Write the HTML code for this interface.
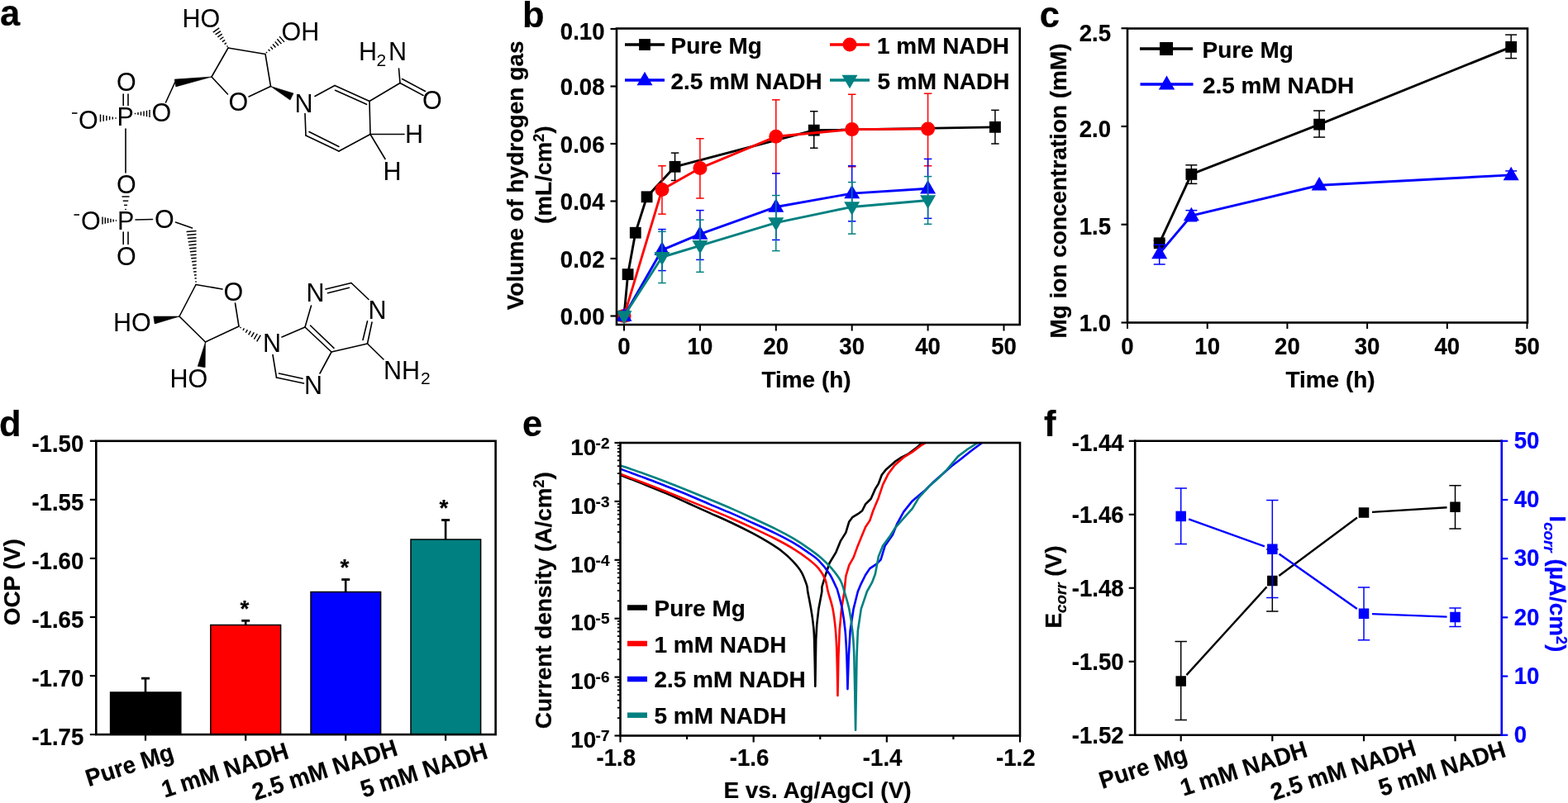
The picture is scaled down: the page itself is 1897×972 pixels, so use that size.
<!DOCTYPE html>
<html lang="en"><head><meta charset="utf-8"><title>NADH magnesium corrosion figure</title>
<style>
html,body{margin:0;padding:0;background:#fff;}
body{width:1897px;height:972px;overflow:hidden;}
svg{display:block;}
svg text{font-family:"Liberation Sans", Arial, Helvetica, sans-serif;font-weight:bold;stroke-width:0.2px;stroke-linejoin:round;}
#molecule text{font-weight:normal;stroke:none;}
</style></head><body>
<svg width="1897" height="972" viewBox="0 0 1897 972">
<rect width="1897" height="972" fill="#fff"/>
<text transform="translate(0 30.5)" font-size="43.5" stroke="#000">a</text>
<text transform="translate(632 32.5)" font-size="43.5" stroke="#000">b</text>
<text transform="translate(1257.8 32.5)" font-size="43.5" stroke="#000">c</text>
<text transform="translate(-1 528)" font-size="43.5" stroke="#000">d</text>
<text transform="translate(632 528)" font-size="43.5" stroke="#000">e</text>
<text transform="translate(1263 528)" font-size="43.5" stroke="#000">f</text>
<g id="molecule">
<line x1="276" y1="58" x2="321" y2="65.5" stroke="#000000" stroke-width="1.6" stroke-linecap="round"/>
<line x1="321" y1="65.5" x2="327.5" y2="104.5" stroke="#000000" stroke-width="1.6" stroke-linecap="round"/>
<line x1="256" y1="93" x2="276" y2="58" stroke="#000000" stroke-width="1.6" stroke-linecap="round"/>
<line x1="327.5" y1="104.5" x2="301" y2="117" stroke="#000000" stroke-width="1.6" stroke-linecap="round"/>
<line x1="256" y1="93" x2="275.5" y2="114" stroke="#000000" stroke-width="1.6" stroke-linecap="round"/>
<polygon points="256,93 211.24,96.06 212.76,104.94" fill="#000" stroke="#000" stroke-width="0.6" stroke-linejoin="round"/>
<line x1="212" y1="99" x2="200.5" y2="124" stroke="#000000" stroke-width="1.6" stroke-linecap="round"/>
<line x1="274.38" y1="56.43" x2="275.62" y2="55.57" stroke="#000000" stroke-width="1.45" stroke-linecap="butt"/>
<line x1="271.62" y1="53.53" x2="273.88" y2="51.97" stroke="#000000" stroke-width="1.45" stroke-linecap="butt"/>
<line x1="268.86" y1="50.64" x2="272.14" y2="48.36" stroke="#000000" stroke-width="1.45" stroke-linecap="butt"/>
<line x1="266.09" y1="47.74" x2="270.41" y2="44.76" stroke="#000000" stroke-width="1.45" stroke-linecap="butt"/>
<line x1="263.33" y1="44.85" x2="268.67" y2="41.15" stroke="#000000" stroke-width="1.45" stroke-linecap="butt"/>
<line x1="260.56" y1="41.96" x2="266.94" y2="37.54" stroke="#000000" stroke-width="1.45" stroke-linecap="butt"/>
<line x1="257.8" y1="39.06" x2="265.2" y2="33.94" stroke="#000000" stroke-width="1.45" stroke-linecap="butt"/>
<line x1="322.01" y1="62.93" x2="322.99" y2="64.07" stroke="#000000" stroke-width="1.45" stroke-linecap="butt"/>
<line x1="324.68" y1="59.79" x2="326.48" y2="61.87" stroke="#000000" stroke-width="1.45" stroke-linecap="butt"/>
<line x1="327.36" y1="56.65" x2="329.97" y2="59.68" stroke="#000000" stroke-width="1.45" stroke-linecap="butt"/>
<line x1="330.03" y1="53.51" x2="333.47" y2="57.49" stroke="#000000" stroke-width="1.45" stroke-linecap="butt"/>
<line x1="332.71" y1="50.38" x2="336.96" y2="55.29" stroke="#000000" stroke-width="1.45" stroke-linecap="butt"/>
<line x1="335.38" y1="47.24" x2="340.45" y2="53.1" stroke="#000000" stroke-width="1.45" stroke-linecap="butt"/>
<line x1="338.06" y1="44.1" x2="343.94" y2="50.9" stroke="#000000" stroke-width="1.45" stroke-linecap="butt"/>
<polygon points="327.5,104.5 351.02,121.04 354.98,112.96" fill="#000" stroke="#000" stroke-width="0.6" stroke-linejoin="round"/>
<text transform="translate(220.5 33)" font-size="30.5" stroke="#000">HO</text>
<text transform="translate(340.5 49)" font-size="30.5" stroke="#000">OH</text>
<text transform="translate(276.5 133.5)" font-size="30.5" stroke="#000">O</text>
<text transform="translate(183.5 146.5)" font-size="30.5" stroke="#000">O</text>
<text transform="translate(141.5 152)" font-size="30.5" stroke="#000">P</text>
<text transform="translate(95 155.5)" font-size="30.5" stroke="#000">O</text>
<text transform="translate(141 110)" font-size="30.5" stroke="#000">O</text>
<line x1="87" y1="137" x2="93.5" y2="137" stroke="#000000" stroke-width="1.6" stroke-linecap="butt"/>
<line x1="163.5" y1="136.75" x2="163.5" y2="138.25" stroke="#000000" stroke-width="1.45" stroke-linecap="butt"/>
<line x1="167" y1="136" x2="167" y2="139" stroke="#000000" stroke-width="1.45" stroke-linecap="butt"/>
<line x1="170.5" y1="135.25" x2="170.5" y2="139.75" stroke="#000000" stroke-width="1.45" stroke-linecap="butt"/>
<line x1="174" y1="134.5" x2="174" y2="140.5" stroke="#000000" stroke-width="1.45" stroke-linecap="butt"/>
<line x1="177.5" y1="133.75" x2="177.5" y2="141.25" stroke="#000000" stroke-width="1.45" stroke-linecap="butt"/>
<line x1="181" y1="133" x2="181" y2="142" stroke="#000000" stroke-width="1.45" stroke-linecap="butt"/>
<line x1="140" y1="143.75" x2="140" y2="142.25" stroke="#000000" stroke-width="1.45" stroke-linecap="butt"/>
<line x1="136.3" y1="144.5" x2="136.3" y2="141.5" stroke="#000000" stroke-width="1.45" stroke-linecap="butt"/>
<line x1="132.6" y1="145.25" x2="132.6" y2="140.75" stroke="#000000" stroke-width="1.45" stroke-linecap="butt"/>
<line x1="128.9" y1="146" x2="128.9" y2="140" stroke="#000000" stroke-width="1.45" stroke-linecap="butt"/>
<line x1="125.2" y1="146.75" x2="125.2" y2="139.25" stroke="#000000" stroke-width="1.45" stroke-linecap="butt"/>
<line x1="121.5" y1="147.5" x2="121.5" y2="138.5" stroke="#000000" stroke-width="1.45" stroke-linecap="butt"/>
<line x1="149.2" y1="114" x2="149.2" y2="127.5" stroke="#000000" stroke-width="1.6" stroke-linecap="round"/>
<line x1="155" y1="114" x2="155" y2="127.5" stroke="#000000" stroke-width="1.6" stroke-linecap="round"/>
<line x1="152" y1="156" x2="152" y2="209" stroke="#000000" stroke-width="1.6" stroke-linecap="round"/>
<text transform="translate(141 234)" font-size="30.5" stroke="#000">O</text>
<line x1="151.25" y1="253.5" x2="152.75" y2="253.5" stroke="#000000" stroke-width="1.45" stroke-linecap="butt"/>
<line x1="150" y1="248.33" x2="154" y2="248.33" stroke="#000000" stroke-width="1.45" stroke-linecap="butt"/>
<line x1="148.75" y1="243.17" x2="155.25" y2="243.17" stroke="#000000" stroke-width="1.45" stroke-linecap="butt"/>
<line x1="147.5" y1="238" x2="156.5" y2="238" stroke="#000000" stroke-width="1.45" stroke-linecap="butt"/>
<text transform="translate(142 277.5)" font-size="30.5" stroke="#000">P</text>
<text transform="translate(98 278)" font-size="30.5" stroke="#000">O</text>
<line x1="89.5" y1="260" x2="96" y2="260" stroke="#000000" stroke-width="1.6" stroke-linecap="butt"/>
<line x1="140.5" y1="267.75" x2="140.5" y2="266.25" stroke="#000000" stroke-width="1.45" stroke-linecap="butt"/>
<line x1="137.2" y1="268.5" x2="137.2" y2="265.5" stroke="#000000" stroke-width="1.45" stroke-linecap="butt"/>
<line x1="133.9" y1="269.25" x2="133.9" y2="264.75" stroke="#000000" stroke-width="1.45" stroke-linecap="butt"/>
<line x1="130.6" y1="270" x2="130.6" y2="264" stroke="#000000" stroke-width="1.45" stroke-linecap="butt"/>
<line x1="127.3" y1="270.75" x2="127.3" y2="263.25" stroke="#000000" stroke-width="1.45" stroke-linecap="butt"/>
<line x1="124" y1="271.5" x2="124" y2="262.5" stroke="#000000" stroke-width="1.45" stroke-linecap="butt"/>
<line x1="164" y1="266" x2="184.5" y2="265.5" stroke="#000000" stroke-width="1.6" stroke-linecap="round"/>
<text transform="translate(187 276)" font-size="30.5" stroke="#000">O</text>
<line x1="212.5" y1="269" x2="232.5" y2="276" stroke="#000000" stroke-width="1.6" stroke-linecap="round"/>
<line x1="149.2" y1="281" x2="149.2" y2="295.5" stroke="#000000" stroke-width="1.6" stroke-linecap="round"/>
<line x1="155" y1="281" x2="155" y2="295.5" stroke="#000000" stroke-width="1.6" stroke-linecap="round"/>
<text transform="translate(141 320.5)" font-size="30.5" stroke="#000">O</text>
<line x1="236.25" y1="341.07" x2="237.75" y2="340.93" stroke="#000000" stroke-width="1.5" stroke-linecap="butt"/>
<line x1="235.54" y1="337.03" x2="237.73" y2="336.83" stroke="#000000" stroke-width="1.5" stroke-linecap="butt"/>
<line x1="234.82" y1="333" x2="237.71" y2="332.74" stroke="#000000" stroke-width="1.5" stroke-linecap="butt"/>
<line x1="234.11" y1="328.96" x2="237.69" y2="328.64" stroke="#000000" stroke-width="1.5" stroke-linecap="butt"/>
<line x1="233.39" y1="324.93" x2="237.67" y2="324.54" stroke="#000000" stroke-width="1.5" stroke-linecap="butt"/>
<line x1="232.68" y1="320.89" x2="237.66" y2="320.44" stroke="#000000" stroke-width="1.5" stroke-linecap="butt"/>
<line x1="231.96" y1="316.86" x2="237.64" y2="316.34" stroke="#000000" stroke-width="1.5" stroke-linecap="butt"/>
<line x1="231.25" y1="312.82" x2="237.62" y2="312.25" stroke="#000000" stroke-width="1.5" stroke-linecap="butt"/>
<line x1="230.53" y1="308.79" x2="237.6" y2="308.15" stroke="#000000" stroke-width="1.5" stroke-linecap="butt"/>
<line x1="229.82" y1="304.75" x2="237.58" y2="304.05" stroke="#000000" stroke-width="1.5" stroke-linecap="butt"/>
<line x1="229.1" y1="300.71" x2="237.57" y2="299.95" stroke="#000000" stroke-width="1.5" stroke-linecap="butt"/>
<line x1="228.39" y1="296.68" x2="237.55" y2="295.85" stroke="#000000" stroke-width="1.5" stroke-linecap="butt"/>
<line x1="227.67" y1="292.64" x2="237.53" y2="291.76" stroke="#000000" stroke-width="1.5" stroke-linecap="butt"/>
<line x1="226.95" y1="288.61" x2="237.51" y2="287.66" stroke="#000000" stroke-width="1.5" stroke-linecap="butt"/>
<line x1="226.24" y1="284.57" x2="237.49" y2="283.56" stroke="#000000" stroke-width="1.5" stroke-linecap="butt"/>
<line x1="225.52" y1="280.54" x2="237.48" y2="279.46" stroke="#000000" stroke-width="1.5" stroke-linecap="butt"/>
<line x1="237" y1="344.5" x2="217" y2="383" stroke="#000000" stroke-width="1.6" stroke-linecap="round"/>
<line x1="217" y1="383" x2="248.5" y2="414" stroke="#000000" stroke-width="1.6" stroke-linecap="round"/>
<line x1="248.5" y1="414" x2="289" y2="395" stroke="#000000" stroke-width="1.6" stroke-linecap="round"/>
<line x1="237" y1="344.5" x2="269" y2="350" stroke="#000000" stroke-width="1.6" stroke-linecap="round"/>
<line x1="284.5" y1="367" x2="289" y2="395" stroke="#000000" stroke-width="1.6" stroke-linecap="round"/>
<text transform="translate(270.5 363.5)" font-size="30.5" stroke="#000">O</text>
<polygon points="217,383 185.84,383.05 187.16,391.95" fill="#000" stroke="#000" stroke-width="0.6" stroke-linejoin="round"/>
<text transform="translate(137 401)" font-size="30.5" stroke="#000">HO</text>
<polygon points="248.5,414 239.26,443.29 248.14,444.71" fill="#000" stroke="#000" stroke-width="0.6" stroke-linejoin="round"/>
<text transform="translate(205.5 469)" font-size="30.5" stroke="#000">HO</text>
<line x1="291.38" y1="395.85" x2="290.62" y2="397.15" stroke="#000000" stroke-width="1.45" stroke-linecap="butt"/>
<line x1="295.37" y1="397.48" x2="293.97" y2="399.85" stroke="#000000" stroke-width="1.45" stroke-linecap="butt"/>
<line x1="299.35" y1="399.11" x2="297.32" y2="402.56" stroke="#000000" stroke-width="1.45" stroke-linecap="butt"/>
<line x1="303.34" y1="400.74" x2="300.66" y2="405.26" stroke="#000000" stroke-width="1.45" stroke-linecap="butt"/>
<line x1="307.32" y1="402.37" x2="304.01" y2="407.96" stroke="#000000" stroke-width="1.45" stroke-linecap="butt"/>
<line x1="311.3" y1="404" x2="307.36" y2="410.67" stroke="#000000" stroke-width="1.45" stroke-linecap="butt"/>
<line x1="315.29" y1="405.63" x2="310.71" y2="413.37" stroke="#000000" stroke-width="1.45" stroke-linecap="butt"/>
<text transform="translate(318 426)" font-size="30.5" stroke="#000">N</text>
<line x1="341" y1="408" x2="369" y2="396" stroke="#000000" stroke-width="1.6" stroke-linecap="round"/>
<line x1="369" y1="396" x2="376.5" y2="370" stroke="#000000" stroke-width="1.6" stroke-linecap="round"/>
<text transform="translate(370.5 365)" font-size="30.5" stroke="#000">N</text>
<line x1="394" y1="350" x2="425" y2="342.5" stroke="#000000" stroke-width="1.6" stroke-linecap="round"/>
<line x1="396.5" y1="354.8" x2="422.5" y2="348.3" stroke="#000000" stroke-width="1.6" stroke-linecap="round"/>
<line x1="425" y1="342.5" x2="446" y2="362.5" stroke="#000000" stroke-width="1.6" stroke-linecap="round"/>
<text transform="translate(445.5 385.5)" font-size="30.5" stroke="#000">N</text>
<line x1="450" y1="390" x2="444.5" y2="416" stroke="#000000" stroke-width="1.6" stroke-linecap="round"/>
<line x1="444.5" y1="388.8" x2="439" y2="411.5" stroke="#000000" stroke-width="1.6" stroke-linecap="round"/>
<line x1="444.5" y1="416" x2="401" y2="426" stroke="#000000" stroke-width="1.6" stroke-linecap="round"/>
<line x1="369" y1="396" x2="401" y2="426" stroke="#000000" stroke-width="1.6" stroke-linecap="round"/>
<line x1="375.5" y1="394" x2="404" y2="421.3" stroke="#000000" stroke-width="1.6" stroke-linecap="round"/>
<line x1="401" y1="426" x2="387" y2="452" stroke="#000000" stroke-width="1.6" stroke-linecap="round"/>
<text transform="translate(368 477)" font-size="30.5" stroke="#000">N</text>
<line x1="334.5" y1="457" x2="367.5" y2="464" stroke="#000000" stroke-width="1.6" stroke-linecap="round"/>
<line x1="337.5" y1="452" x2="366" y2="458.3" stroke="#000000" stroke-width="1.6" stroke-linecap="round"/>
<line x1="330" y1="429.5" x2="334.5" y2="457" stroke="#000000" stroke-width="1.6" stroke-linecap="round"/>
<line x1="444.5" y1="416" x2="464" y2="435" stroke="#000000" stroke-width="1.6" stroke-linecap="round"/>
<text transform="translate(464 459)" font-size="30.5" stroke="#000">NH</text>
<text transform="translate(509 465)" font-size="21" stroke="#000">2</text>
<text transform="translate(356.5 135.5)" font-size="30.5" stroke="#000">N</text>
<line x1="381" y1="116.5" x2="405" y2="103.5" stroke="#000000" stroke-width="1.6" stroke-linecap="round"/>
<line x1="405" y1="103.5" x2="447" y2="122.5" stroke="#000000" stroke-width="1.6" stroke-linecap="round"/>
<line x1="405.5" y1="109.3" x2="443.5" y2="126.3" stroke="#000000" stroke-width="1.6" stroke-linecap="round"/>
<line x1="447" y1="122.5" x2="448" y2="162.5" stroke="#000000" stroke-width="1.6" stroke-linecap="round"/>
<line x1="448" y1="162.5" x2="410" y2="183" stroke="#000000" stroke-width="1.6" stroke-linecap="round"/>
<line x1="410" y1="183" x2="370" y2="164" stroke="#000000" stroke-width="1.6" stroke-linecap="round"/>
<line x1="374" y1="159.5" x2="410" y2="177.5" stroke="#000000" stroke-width="1.6" stroke-linecap="round"/>
<line x1="369" y1="137.5" x2="370" y2="164" stroke="#000000" stroke-width="1.6" stroke-linecap="round"/>
<line x1="447" y1="122.5" x2="484" y2="100.5" stroke="#000000" stroke-width="1.6" stroke-linecap="round"/>
<line x1="484" y1="100.5" x2="482.5" y2="83" stroke="#000000" stroke-width="1.6" stroke-linecap="round"/>
<line x1="484" y1="100.5" x2="512" y2="115.5" stroke="#000000" stroke-width="1.6" stroke-linecap="round"/>
<line x1="486.5" y1="95.5" x2="514.5" y2="110.5" stroke="#000000" stroke-width="1.6" stroke-linecap="round"/>
<text transform="translate(511 132)" font-size="30.5" stroke="#000">O</text>
<text transform="translate(434 73)" font-size="30.5" stroke="#000">H</text>
<text transform="translate(455.5 80)" font-size="21" stroke="#000">2</text>
<text transform="translate(470 73)" font-size="30.5" stroke="#000">N</text>
<line x1="448" y1="162.5" x2="489" y2="162.5" stroke="#000000" stroke-width="1.6" stroke-linecap="round"/>
<text transform="translate(490 173)" font-size="30.5" stroke="#000">H</text>
<line x1="448" y1="162.5" x2="466" y2="192.5" stroke="#000000" stroke-width="1.6" stroke-linecap="round"/>
<text transform="translate(463.5 217.5)" font-size="30.5" stroke="#000">H</text>
</g>
<g id="panel-b">
<line x1="816.57" y1="185.12" x2="816.57" y2="218.48" stroke="#000000" stroke-width="1.5" stroke-linecap="butt"/>
<line x1="811.82" y1="185.12" x2="821.32" y2="185.12" stroke="#000000" stroke-width="1.5" stroke-linecap="butt"/>
<line x1="811.82" y1="218.48" x2="821.32" y2="218.48" stroke="#000000" stroke-width="1.5" stroke-linecap="butt"/>
<line x1="984.75" y1="134.73" x2="984.75" y2="179.21" stroke="#000000" stroke-width="1.5" stroke-linecap="butt"/>
<line x1="980" y1="134.73" x2="989.5" y2="134.73" stroke="#000000" stroke-width="1.5" stroke-linecap="butt"/>
<line x1="980" y1="179.21" x2="989.5" y2="179.21" stroke="#000000" stroke-width="1.5" stroke-linecap="butt"/>
<line x1="1203.93" y1="133.34" x2="1203.93" y2="174" stroke="#000000" stroke-width="1.5" stroke-linecap="butt"/>
<line x1="1199.18" y1="133.34" x2="1208.68" y2="133.34" stroke="#000000" stroke-width="1.5" stroke-linecap="butt"/>
<line x1="1199.18" y1="174" x2="1208.68" y2="174" stroke="#000000" stroke-width="1.5" stroke-linecap="butt"/>
<polyline points="755,382.5 759.6,332.11 768.78,281.73 782.57,238.29 816.57,201.8 984.75,157.67 1203.93,153.84" fill="none" stroke="#000000" stroke-width="2.9" stroke-linejoin="round" stroke-linecap="butt"/>
<rect x="748.1" y="375.6" width="13.8" height="13.8" fill="#000000"/>
<rect x="752.7" y="325.21" width="13.8" height="13.8" fill="#000000"/>
<rect x="761.88" y="274.83" width="13.8" height="13.8" fill="#000000"/>
<rect x="775.67" y="231.39" width="13.8" height="13.8" fill="#000000"/>
<rect x="809.67" y="194.9" width="13.8" height="13.8" fill="#000000"/>
<rect x="977.85" y="150.77" width="13.8" height="13.8" fill="#000000"/>
<rect x="1197.03" y="146.94" width="13.8" height="13.8" fill="#000000"/>
<line x1="800.95" y1="200.76" x2="800.95" y2="259.14" stroke="#ff0000" stroke-width="1.5" stroke-linecap="butt"/>
<line x1="796.2" y1="200.76" x2="805.7" y2="200.76" stroke="#ff0000" stroke-width="1.5" stroke-linecap="butt"/>
<line x1="796.2" y1="259.14" x2="805.7" y2="259.14" stroke="#ff0000" stroke-width="1.5" stroke-linecap="butt"/>
<line x1="846.9" y1="167.75" x2="846.9" y2="240.03" stroke="#ff0000" stroke-width="1.5" stroke-linecap="butt"/>
<line x1="842.15" y1="167.75" x2="851.65" y2="167.75" stroke="#ff0000" stroke-width="1.5" stroke-linecap="butt"/>
<line x1="842.15" y1="240.03" x2="851.65" y2="240.03" stroke="#ff0000" stroke-width="1.5" stroke-linecap="butt"/>
<line x1="938.8" y1="120.83" x2="938.8" y2="209.79" stroke="#ff0000" stroke-width="1.5" stroke-linecap="butt"/>
<line x1="934.05" y1="120.83" x2="943.55" y2="120.83" stroke="#ff0000" stroke-width="1.5" stroke-linecap="butt"/>
<line x1="934.05" y1="209.79" x2="943.55" y2="209.79" stroke="#ff0000" stroke-width="1.5" stroke-linecap="butt"/>
<line x1="1030.7" y1="114.23" x2="1030.7" y2="201.8" stroke="#ff0000" stroke-width="1.5" stroke-linecap="butt"/>
<line x1="1025.95" y1="114.23" x2="1035.45" y2="114.23" stroke="#ff0000" stroke-width="1.5" stroke-linecap="butt"/>
<line x1="1025.95" y1="201.8" x2="1035.45" y2="201.8" stroke="#ff0000" stroke-width="1.5" stroke-linecap="butt"/>
<line x1="1122.6" y1="113.19" x2="1122.6" y2="200.76" stroke="#ff0000" stroke-width="1.5" stroke-linecap="butt"/>
<line x1="1117.85" y1="113.19" x2="1127.35" y2="113.19" stroke="#ff0000" stroke-width="1.5" stroke-linecap="butt"/>
<line x1="1117.85" y1="200.76" x2="1127.35" y2="200.76" stroke="#ff0000" stroke-width="1.5" stroke-linecap="butt"/>
<polyline points="755,382.5 800.95,229.6 846.9,203.54 938.8,165.31 1030.7,156.62 1122.6,155.93" fill="none" stroke="#ff0000" stroke-width="2.9" stroke-linejoin="round" stroke-linecap="butt"/>
<circle cx="755" cy="382.5" r="8.5" fill="#ff0000"/>
<circle cx="800.95" cy="229.6" r="8.5" fill="#ff0000"/>
<circle cx="846.9" cy="203.54" r="8.5" fill="#ff0000"/>
<circle cx="938.8" cy="165.31" r="8.5" fill="#ff0000"/>
<circle cx="1030.7" cy="156.62" r="8.5" fill="#ff0000"/>
<circle cx="1122.6" cy="155.93" r="8.5" fill="#ff0000"/>
<line x1="800.95" y1="277.56" x2="800.95" y2="327.59" stroke="#0000ff" stroke-width="1.5" stroke-linecap="butt"/>
<line x1="796.2" y1="277.56" x2="805.7" y2="277.56" stroke="#0000ff" stroke-width="1.5" stroke-linecap="butt"/>
<line x1="796.2" y1="327.59" x2="805.7" y2="327.59" stroke="#0000ff" stroke-width="1.5" stroke-linecap="butt"/>
<line x1="846.9" y1="254.62" x2="846.9" y2="314.39" stroke="#0000ff" stroke-width="1.5" stroke-linecap="butt"/>
<line x1="842.15" y1="254.62" x2="851.65" y2="254.62" stroke="#0000ff" stroke-width="1.5" stroke-linecap="butt"/>
<line x1="842.15" y1="314.39" x2="851.65" y2="314.39" stroke="#0000ff" stroke-width="1.5" stroke-linecap="butt"/>
<line x1="938.8" y1="209.79" x2="938.8" y2="290.41" stroke="#0000ff" stroke-width="1.5" stroke-linecap="butt"/>
<line x1="934.05" y1="209.79" x2="943.55" y2="209.79" stroke="#0000ff" stroke-width="1.5" stroke-linecap="butt"/>
<line x1="934.05" y1="290.41" x2="943.55" y2="290.41" stroke="#0000ff" stroke-width="1.5" stroke-linecap="butt"/>
<line x1="1030.7" y1="200.76" x2="1030.7" y2="267.82" stroke="#0000ff" stroke-width="1.5" stroke-linecap="butt"/>
<line x1="1025.95" y1="200.76" x2="1035.45" y2="200.76" stroke="#0000ff" stroke-width="1.5" stroke-linecap="butt"/>
<line x1="1025.95" y1="267.82" x2="1035.45" y2="267.82" stroke="#0000ff" stroke-width="1.5" stroke-linecap="butt"/>
<line x1="1122.6" y1="192.42" x2="1122.6" y2="264.35" stroke="#0000ff" stroke-width="1.5" stroke-linecap="butt"/>
<line x1="1117.85" y1="192.42" x2="1127.35" y2="192.42" stroke="#0000ff" stroke-width="1.5" stroke-linecap="butt"/>
<line x1="1117.85" y1="264.35" x2="1127.35" y2="264.35" stroke="#0000ff" stroke-width="1.5" stroke-linecap="butt"/>
<polyline points="755,382.5 800.95,302.57 846.9,283.46 938.8,250.45 1030.7,234.12 1122.6,228.21" fill="none" stroke="#0000ff" stroke-width="2.9" stroke-linejoin="round" stroke-linecap="butt"/>
<polygon points="755,372.3 745.5,388.75 764.5,388.75" fill="#0000ff"/>
<polygon points="800.95,292.37 791.45,308.83 810.45,308.83" fill="#0000ff"/>
<polygon points="846.9,273.26 837.4,289.72 856.4,289.72" fill="#0000ff"/>
<polygon points="938.8,240.25 929.3,256.7 948.3,256.7" fill="#0000ff"/>
<polygon points="1030.7,223.92 1021.2,240.37 1040.2,240.37" fill="#0000ff"/>
<polygon points="1122.6,218.01 1113.1,234.46 1132.1,234.46" fill="#0000ff"/>
<line x1="800.95" y1="280.34" x2="800.95" y2="342.54" stroke="#008080" stroke-width="1.5" stroke-linecap="butt"/>
<line x1="796.2" y1="280.34" x2="805.7" y2="280.34" stroke="#008080" stroke-width="1.5" stroke-linecap="butt"/>
<line x1="796.2" y1="342.54" x2="805.7" y2="342.54" stroke="#008080" stroke-width="1.5" stroke-linecap="butt"/>
<line x1="846.9" y1="266.09" x2="846.9" y2="329.33" stroke="#008080" stroke-width="1.5" stroke-linecap="butt"/>
<line x1="842.15" y1="266.09" x2="851.65" y2="266.09" stroke="#008080" stroke-width="1.5" stroke-linecap="butt"/>
<line x1="842.15" y1="329.33" x2="851.65" y2="329.33" stroke="#008080" stroke-width="1.5" stroke-linecap="butt"/>
<line x1="938.8" y1="236.55" x2="938.8" y2="303.62" stroke="#008080" stroke-width="1.5" stroke-linecap="butt"/>
<line x1="934.05" y1="236.55" x2="943.55" y2="236.55" stroke="#008080" stroke-width="1.5" stroke-linecap="butt"/>
<line x1="934.05" y1="303.62" x2="943.55" y2="303.62" stroke="#008080" stroke-width="1.5" stroke-linecap="butt"/>
<line x1="1030.7" y1="220.56" x2="1030.7" y2="283.12" stroke="#008080" stroke-width="1.5" stroke-linecap="butt"/>
<line x1="1025.95" y1="220.56" x2="1035.45" y2="220.56" stroke="#008080" stroke-width="1.5" stroke-linecap="butt"/>
<line x1="1025.95" y1="283.12" x2="1035.45" y2="283.12" stroke="#008080" stroke-width="1.5" stroke-linecap="butt"/>
<line x1="1122.6" y1="213.62" x2="1122.6" y2="271.3" stroke="#008080" stroke-width="1.5" stroke-linecap="butt"/>
<line x1="1117.85" y1="213.62" x2="1127.35" y2="213.62" stroke="#008080" stroke-width="1.5" stroke-linecap="butt"/>
<line x1="1117.85" y1="271.3" x2="1127.35" y2="271.3" stroke="#008080" stroke-width="1.5" stroke-linecap="butt"/>
<polyline points="755,382.5 800.95,311.26 846.9,297.36 938.8,269.56 1030.7,250.45 1122.6,242.46" fill="none" stroke="#008080" stroke-width="2.9" stroke-linejoin="round" stroke-linecap="butt"/>
<polygon points="755,392.7 745.5,376.25 764.5,376.25" fill="#008080"/>
<polygon points="800.95,321.46 791.45,305.01 810.45,305.01" fill="#008080"/>
<polygon points="846.9,307.56 837.4,291.11 856.4,291.11" fill="#008080"/>
<polygon points="938.8,279.76 929.3,263.31 948.3,263.31" fill="#008080"/>
<polygon points="1030.7,260.65 1021.2,244.2 1040.2,244.2" fill="#008080"/>
<polygon points="1122.6,252.66 1113.1,236.2 1132.1,236.2" fill="#008080"/>
<rect x="746" y="34.5" width="487.75" height="358.5" fill="none" stroke="#000" stroke-width="2.6"/>
<line x1="738.5" y1="382.5" x2="746" y2="382.5" stroke="#000000" stroke-width="2.2" stroke-linecap="butt"/>
<text transform="translate(731.5 393.2) scale(0.985 1.04)" font-size="28" text-anchor="end" stroke="#000">0.00</text>
<line x1="738.5" y1="313" x2="746" y2="313" stroke="#000000" stroke-width="2.2" stroke-linecap="butt"/>
<text transform="translate(731.5 323.7) scale(0.985 1.04)" font-size="28" text-anchor="end" stroke="#000">0.02</text>
<line x1="738.5" y1="243.5" x2="746" y2="243.5" stroke="#000000" stroke-width="2.2" stroke-linecap="butt"/>
<text transform="translate(731.5 254.2) scale(0.985 1.04)" font-size="28" text-anchor="end" stroke="#000">0.04</text>
<line x1="738.5" y1="174" x2="746" y2="174" stroke="#000000" stroke-width="2.2" stroke-linecap="butt"/>
<text transform="translate(731.5 184.7) scale(0.985 1.04)" font-size="28" text-anchor="end" stroke="#000">0.06</text>
<line x1="738.5" y1="104.5" x2="746" y2="104.5" stroke="#000000" stroke-width="2.2" stroke-linecap="butt"/>
<text transform="translate(731.5 115.2) scale(0.985 1.04)" font-size="28" text-anchor="end" stroke="#000">0.08</text>
<line x1="738.5" y1="35" x2="746" y2="35" stroke="#000000" stroke-width="2.2" stroke-linecap="butt"/>
<text transform="translate(731.5 47.5) scale(0.985 1.04)" font-size="28" text-anchor="end" stroke="#000">0.10</text>
<line x1="755" y1="393" x2="755" y2="400.5" stroke="#000000" stroke-width="2" stroke-linecap="butt"/>
<text transform="translate(755 428.5) scale(0.985 1.04)" font-size="28" text-anchor="middle" stroke="#000">0</text>
<line x1="846.9" y1="393" x2="846.9" y2="400.5" stroke="#000000" stroke-width="2" stroke-linecap="butt"/>
<text transform="translate(846.9 428.5) scale(0.985 1.04)" font-size="28" text-anchor="middle" stroke="#000">10</text>
<line x1="938.8" y1="393" x2="938.8" y2="400.5" stroke="#000000" stroke-width="2" stroke-linecap="butt"/>
<text transform="translate(938.8 428.5) scale(0.985 1.04)" font-size="28" text-anchor="middle" stroke="#000">20</text>
<line x1="1030.7" y1="393" x2="1030.7" y2="400.5" stroke="#000000" stroke-width="2" stroke-linecap="butt"/>
<text transform="translate(1030.7 428.5) scale(0.985 1.04)" font-size="28" text-anchor="middle" stroke="#000">30</text>
<line x1="1122.6" y1="393" x2="1122.6" y2="400.5" stroke="#000000" stroke-width="2" stroke-linecap="butt"/>
<text transform="translate(1122.6 428.5) scale(0.985 1.04)" font-size="28" text-anchor="middle" stroke="#000">40</text>
<line x1="1214.5" y1="393" x2="1214.5" y2="400.5" stroke="#000000" stroke-width="2" stroke-linecap="butt"/>
<text transform="translate(1214.5 428.5) scale(0.985 1.04)" font-size="28" text-anchor="middle" stroke="#000">50</text>
<text transform="translate(975.5 469.2) scale(0.998 1.0)" font-size="28" text-anchor="middle" stroke="#000">Time (h)</text>
<text transform="translate(633.3 212.3) rotate(-90) scale(0.998 1.0)" font-size="28.2" text-anchor="middle" stroke="#000">Volume of hydrogen gas</text>
<text transform="translate(667 211.7) rotate(-90) scale(0.998 1.0)" font-size="28" text-anchor="middle" stroke="#000">(mL/cm<tspan font-size="18" dy="-9">2</tspan><tspan dy="9">)</tspan></text>
<line x1="756" y1="54" x2="804" y2="54" stroke="#000000" stroke-width="3.5" stroke-linecap="butt"/>
<rect x="773.1" y="47.1" width="13.8" height="13.8" fill="#000000"/>
<text transform="translate(811.5 65) scale(0.998 1.0)" font-size="28" stroke="#000">Pure Mg</text>
<line x1="756" y1="97" x2="804" y2="97" stroke="#0000ff" stroke-width="3.5" stroke-linecap="butt"/>
<polygon points="780,86.8 770.5,103.25 789.5,103.25" fill="#0000ff"/>
<text transform="translate(811.5 108) scale(0.998 1.0)" font-size="28" stroke="#000">2.5 mM NADH</text>
<line x1="1004" y1="54" x2="1052" y2="54" stroke="#ff0000" stroke-width="3.5" stroke-linecap="butt"/>
<circle cx="1028" cy="54" r="8.5" fill="#ff0000"/>
<text transform="translate(1061 65) scale(0.998 1.0)" font-size="28" stroke="#000">1 mM NADH</text>
<line x1="1004" y1="97" x2="1052" y2="97" stroke="#008080" stroke-width="3.5" stroke-linecap="butt"/>
<polygon points="1028,107.2 1018.5,90.75 1037.5,90.75" fill="#008080"/>
<text transform="translate(1061.5 108) scale(0.998 1.0)" font-size="28" stroke="#000">5 mM NADH</text>
</g>
<g id="panel-c">
<line x1="1402.68" y1="290.75" x2="1402.68" y2="297.88" stroke="#000000" stroke-width="1.5" stroke-linecap="butt"/>
<line x1="1395.68" y1="290.75" x2="1409.68" y2="290.75" stroke="#000000" stroke-width="1.5" stroke-linecap="butt"/>
<line x1="1395.68" y1="297.88" x2="1409.68" y2="297.88" stroke="#000000" stroke-width="1.5" stroke-linecap="butt"/>
<line x1="1441.36" y1="199.79" x2="1441.36" y2="222.35" stroke="#000000" stroke-width="1.5" stroke-linecap="butt"/>
<line x1="1434.36" y1="199.79" x2="1448.36" y2="199.79" stroke="#000000" stroke-width="1.5" stroke-linecap="butt"/>
<line x1="1434.36" y1="222.35" x2="1448.36" y2="222.35" stroke="#000000" stroke-width="1.5" stroke-linecap="butt"/>
<line x1="1596.08" y1="134" x2="1596.08" y2="166.06" stroke="#000000" stroke-width="1.5" stroke-linecap="butt"/>
<line x1="1589.08" y1="134" x2="1603.08" y2="134" stroke="#000000" stroke-width="1.5" stroke-linecap="butt"/>
<line x1="1589.08" y1="166.06" x2="1603.08" y2="166.06" stroke="#000000" stroke-width="1.5" stroke-linecap="butt"/>
<line x1="1828.16" y1="42.09" x2="1828.16" y2="70.59" stroke="#000000" stroke-width="1.5" stroke-linecap="butt"/>
<line x1="1821.16" y1="42.09" x2="1835.16" y2="42.09" stroke="#000000" stroke-width="1.5" stroke-linecap="butt"/>
<line x1="1821.16" y1="70.59" x2="1835.16" y2="70.59" stroke="#000000" stroke-width="1.5" stroke-linecap="butt"/>
<polyline points="1402.68,294.31 1441.36,210.95 1596.08,150.63 1828.16,56.81" fill="none" stroke="#000000" stroke-width="2.9" stroke-linejoin="round" stroke-linecap="butt"/>
<rect x="1395.78" y="287.41" width="13.8" height="13.8" fill="#000000"/>
<rect x="1434.46" y="204.05" width="13.8" height="13.8" fill="#000000"/>
<rect x="1589.18" y="143.73" width="13.8" height="13.8" fill="#000000"/>
<rect x="1821.26" y="49.91" width="13.8" height="13.8" fill="#000000"/>
<line x1="1402.68" y1="296.21" x2="1402.68" y2="319.96" stroke="#0000ff" stroke-width="1.5" stroke-linecap="butt"/>
<line x1="1395.68" y1="296.21" x2="1409.68" y2="296.21" stroke="#0000ff" stroke-width="1.5" stroke-linecap="butt"/>
<line x1="1395.68" y1="319.96" x2="1409.68" y2="319.96" stroke="#0000ff" stroke-width="1.5" stroke-linecap="butt"/>
<line x1="1441.36" y1="254.65" x2="1441.36" y2="267.71" stroke="#0000ff" stroke-width="1.5" stroke-linecap="butt"/>
<line x1="1434.36" y1="254.65" x2="1448.36" y2="254.65" stroke="#0000ff" stroke-width="1.5" stroke-linecap="butt"/>
<line x1="1434.36" y1="267.71" x2="1448.36" y2="267.71" stroke="#0000ff" stroke-width="1.5" stroke-linecap="butt"/>
<line x1="1828.16" y1="206.91" x2="1828.16" y2="216.41" stroke="#0000ff" stroke-width="1.5" stroke-linecap="butt"/>
<line x1="1821.16" y1="206.91" x2="1835.16" y2="206.91" stroke="#0000ff" stroke-width="1.5" stroke-linecap="butt"/>
<line x1="1821.16" y1="216.41" x2="1835.16" y2="216.41" stroke="#0000ff" stroke-width="1.5" stroke-linecap="butt"/>
<polyline points="1402.68,306.9 1441.36,261.06 1596.08,224.25 1828.16,211.9" fill="none" stroke="#0000ff" stroke-width="2.9" stroke-linejoin="round" stroke-linecap="butt"/>
<polygon points="1402.68,296.7 1393.18,313.15 1412.18,313.15" fill="#0000ff"/>
<polygon points="1441.36,250.86 1431.86,267.32 1450.86,267.32" fill="#0000ff"/>
<polygon points="1596.08,214.05 1586.58,230.5 1605.58,230.5" fill="#0000ff"/>
<polygon points="1828.16,201.7 1818.66,218.15 1837.66,218.15" fill="#0000ff"/>
<rect x="1364" y="34.5" width="484" height="356.0" fill="none" stroke="#000" stroke-width="2.6"/>
<line x1="1356.5" y1="390.5" x2="1364" y2="390.5" stroke="#000000" stroke-width="2.2" stroke-linecap="butt"/>
<text transform="translate(1344 400.5) scale(0.985 1.04)" font-size="28" text-anchor="end" stroke="#000">1.0</text>
<line x1="1356.5" y1="271.75" x2="1364" y2="271.75" stroke="#000000" stroke-width="2.2" stroke-linecap="butt"/>
<text transform="translate(1344 283.5) scale(0.985 1.04)" font-size="28" text-anchor="end" stroke="#000">1.5</text>
<line x1="1356.5" y1="153" x2="1364" y2="153" stroke="#000000" stroke-width="2.2" stroke-linecap="butt"/>
<text transform="translate(1344 166) scale(0.985 1.04)" font-size="28" text-anchor="end" stroke="#000">2.0</text>
<line x1="1356.5" y1="34.25" x2="1364" y2="34.25" stroke="#000000" stroke-width="2.2" stroke-linecap="butt"/>
<text transform="translate(1344 50) scale(0.985 1.04)" font-size="28" text-anchor="end" stroke="#000">2.5</text>
<line x1="1364" y1="390.5" x2="1364" y2="398" stroke="#000000" stroke-width="2" stroke-linecap="butt"/>
<text transform="translate(1364 428.5) scale(0.985 1.04)" font-size="28" text-anchor="middle" stroke="#000">0</text>
<line x1="1460.7" y1="390.5" x2="1460.7" y2="398" stroke="#000000" stroke-width="2" stroke-linecap="butt"/>
<text transform="translate(1460.7 428.5) scale(0.985 1.04)" font-size="28" text-anchor="middle" stroke="#000">10</text>
<line x1="1557.4" y1="390.5" x2="1557.4" y2="398" stroke="#000000" stroke-width="2" stroke-linecap="butt"/>
<text transform="translate(1557.4 428.5) scale(0.985 1.04)" font-size="28" text-anchor="middle" stroke="#000">20</text>
<line x1="1654.1" y1="390.5" x2="1654.1" y2="398" stroke="#000000" stroke-width="2" stroke-linecap="butt"/>
<text transform="translate(1654.1 428.5) scale(0.985 1.04)" font-size="28" text-anchor="middle" stroke="#000">30</text>
<line x1="1750.8" y1="390.5" x2="1750.8" y2="398" stroke="#000000" stroke-width="2" stroke-linecap="butt"/>
<text transform="translate(1750.8 428.5) scale(0.985 1.04)" font-size="28" text-anchor="middle" stroke="#000">40</text>
<line x1="1847.5" y1="390.5" x2="1847.5" y2="398" stroke="#000000" stroke-width="2" stroke-linecap="butt"/>
<text transform="translate(1847.5 428.5) scale(0.985 1.04)" font-size="28" text-anchor="middle" stroke="#000">50</text>
<text transform="translate(1609.5 469.2) scale(0.998 1.0)" font-size="28" text-anchor="middle" stroke="#000">Time (h)</text>
<text transform="translate(1290 231) rotate(-90) scale(0.998 1.0)" font-size="28" text-anchor="middle" stroke="#000">Mg ion concentration (mM)</text>
<line x1="1379" y1="59" x2="1443" y2="59" stroke="#000000" stroke-width="3.5" stroke-linecap="butt"/>
<rect x="1403" y="51" width="16" height="16" fill="#000000"/>
<text transform="translate(1454.5 70.2) scale(0.998 1.0)" font-size="28" stroke="#000">Pure Mg</text>
<line x1="1379.5" y1="102" x2="1443.5" y2="102" stroke="#0000ff" stroke-width="3.5" stroke-linecap="butt"/>
<polygon points="1411.5,91.53 1401.75,108.42 1421.25,108.42" fill="#0000ff"/>
<text transform="translate(1455 113.2) scale(0.998 1.0)" font-size="28" stroke="#000">2.5 mM NADH</text>
</g>
<g id="panel-d">
<line x1="176" y1="820.8" x2="176" y2="840" stroke="#000000" stroke-width="2.6" stroke-linecap="butt"/>
<line x1="171" y1="821.1" x2="181" y2="821.1" stroke="#000000" stroke-width="2.8" stroke-linecap="butt"/>
<rect x="133.6" y="838" width="85.2" height="51.1" fill="#000000" stroke="#000" stroke-width="1.5"/>
<line x1="176" y1="889.1" x2="176" y2="896.6" stroke="#000000" stroke-width="2.2" stroke-linecap="butt"/>
<text transform="translate(212 918.8) rotate(-17.7) scale(0.995 1.035)" font-size="28" text-anchor="end" stroke="#000">Pure Mg</text>
<line x1="297.2" y1="751" x2="297.2" y2="758.5" stroke="#000000" stroke-width="2.6" stroke-linecap="butt"/>
<line x1="292.2" y1="751.3" x2="302.2" y2="751.3" stroke="#000000" stroke-width="2.8" stroke-linecap="butt"/>
<rect x="254.8" y="756.5" width="84.8" height="132.6" fill="#ff0000" stroke="#000" stroke-width="1.5"/>
<text transform="translate(296 745.5) scale(0.998 1.0)" font-size="28" text-anchor="middle" stroke="#000">*</text>
<line x1="297.2" y1="889.1" x2="297.2" y2="896.6" stroke="#000000" stroke-width="2.2" stroke-linecap="butt"/>
<text transform="translate(351 917.4) rotate(-17.7) scale(0.995 1.035)" font-size="28" text-anchor="end" stroke="#000">1 mM NADH</text>
<line x1="418.2" y1="701.2" x2="418.2" y2="718.5" stroke="#000000" stroke-width="2.6" stroke-linecap="butt"/>
<line x1="413.2" y1="701.5" x2="423.2" y2="701.5" stroke="#000000" stroke-width="2.8" stroke-linecap="butt"/>
<rect x="376" y="716.5" width="84.6" height="172.6" fill="#0000ff" stroke="#000" stroke-width="1.5"/>
<text transform="translate(417 695.7) scale(0.998 1.0)" font-size="28" text-anchor="middle" stroke="#000">*</text>
<line x1="418.2" y1="889.1" x2="418.2" y2="896.6" stroke="#000000" stroke-width="2.2" stroke-linecap="butt"/>
<text transform="translate(482.6 913.6) rotate(-17.7) scale(0.995 1.035)" font-size="28" text-anchor="end" stroke="#000">2.5 mM NADH</text>
<line x1="539.1" y1="629.2" x2="539.1" y2="655" stroke="#000000" stroke-width="2.6" stroke-linecap="butt"/>
<line x1="534.1" y1="629.5" x2="544.1" y2="629.5" stroke="#000000" stroke-width="2.8" stroke-linecap="butt"/>
<rect x="497" y="653" width="84.6" height="236.1" fill="#008080" stroke="#000" stroke-width="1.5"/>
<text transform="translate(536.9 623.7) scale(0.998 1.0)" font-size="28" text-anchor="middle" stroke="#000">*</text>
<line x1="539.1" y1="889.1" x2="539.1" y2="896.6" stroke="#000000" stroke-width="2.2" stroke-linecap="butt"/>
<text transform="translate(591.7 917.4) rotate(-17.7) scale(0.995 1.035)" font-size="28" text-anchor="end" stroke="#000">5 mM NADH</text>
<rect x="116.3" y="533.8" width="483.3" height="355.30000000000007" fill="none" stroke="#000" stroke-width="2.6"/>
<line x1="108.8" y1="533.8" x2="116.3" y2="533.8" stroke="#000000" stroke-width="2.2" stroke-linecap="butt"/>
<text transform="translate(101.3 546.5) scale(0.985 1.04)" font-size="28" text-anchor="end" stroke="#000">-1.50</text>
<line x1="108.8" y1="604.86" x2="116.3" y2="604.86" stroke="#000000" stroke-width="2.2" stroke-linecap="butt"/>
<text transform="translate(101.3 617.56) scale(0.985 1.04)" font-size="28" text-anchor="end" stroke="#000">-1.55</text>
<line x1="108.8" y1="675.92" x2="116.3" y2="675.92" stroke="#000000" stroke-width="2.2" stroke-linecap="butt"/>
<text transform="translate(101.3 688.62) scale(0.985 1.04)" font-size="28" text-anchor="end" stroke="#000">-1.60</text>
<line x1="108.8" y1="746.98" x2="116.3" y2="746.98" stroke="#000000" stroke-width="2.2" stroke-linecap="butt"/>
<text transform="translate(101.3 759.68) scale(0.985 1.04)" font-size="28" text-anchor="end" stroke="#000">-1.65</text>
<line x1="108.8" y1="818.04" x2="116.3" y2="818.04" stroke="#000000" stroke-width="2.2" stroke-linecap="butt"/>
<text transform="translate(101.3 830.74) scale(0.985 1.04)" font-size="28" text-anchor="end" stroke="#000">-1.70</text>
<line x1="108.8" y1="889.1" x2="116.3" y2="889.1" stroke="#000000" stroke-width="2.2" stroke-linecap="butt"/>
<text transform="translate(101.3 901.8) scale(0.985 1.04)" font-size="28" text-anchor="end" stroke="#000">-1.75</text>
<text transform="translate(24 704.8) rotate(-90) scale(0.998 1.0)" font-size="28" text-anchor="middle" stroke="#000">OCP (V)</text>
</g>
<g id="panel-e">
<clipPath id="clipE"><rect x="750.5" y="536" width="483.5" height="354.5"/></clipPath>
<g clip-path="url(#clipE)">
<path d="M750.54,575.02 C755.38,576.91 770.31,582.67 779.54,586.36 C788.76,590.05 797.11,593.39 805.89,597.16 C814.68,600.94 823.47,605.07 832.25,609.03 C841.04,612.98 849.82,616.93 858.61,620.89 C867.39,624.84 876.18,628.57 884.97,632.75 C893.75,636.92 903.86,641.97 911.32,645.93 C918.79,649.88 924.06,652.95 929.77,656.47 C935.48,659.98 940.76,663.28 945.59,667.01 C950.42,670.75 954.81,674.7 958.77,678.87 C962.72,683.05 966.45,687.22 969.31,692.05 C972.16,696.88 974.58,703.87 975.9,707.87 C977.22,711.86 976.34,711.13 977.22,716 C978.1,720.87 980.07,730.5 981.17,737.09 C982.27,743.68 983.15,749.39 983.81,755.54 C984.46,761.69 984.71,761.47 985.12,773.99 C985.54,786.51 986.11,821.21 986.31,830.65 L986.31,830.65 L987.23,773.99 L988.29,755.54 L990.4,737.09 L994.35,716 L994.35,710.5 L998.3,697.32 L1003.57,681.51 L1011.48,668.33 L1016.75,655.15 L1023.34,644.61 L1027.3,631.43 L1031.25,626.16 L1037.84,622.2 L1043.11,618.25 L1047.06,610.34 L1053.65,603.75 L1058.92,591.89 L1062.88,585.3 L1066.83,574.76 L1072.1,568.17 L1082.65,558.95 L1090.55,553.68 L1098.46,549.72 L1109,541.81 L1115.59,536.02" fill="none" stroke="#000000" stroke-width="2.6" stroke-linejoin="round"/>
<path d="M750.54,573.71 C755.38,575.55 770.31,581.22 779.54,584.78 C788.76,588.34 797.11,591.59 805.89,595.06 C814.68,598.53 823.47,602.04 832.25,605.6 C841.04,609.16 849.82,612.76 858.61,616.41 C867.39,620.05 876.18,623.65 884.97,627.48 C893.75,631.3 902.54,635.25 911.32,639.34 C920.11,643.42 929.77,647.95 937.68,651.99 C945.59,656.03 952.18,659.54 958.77,663.59 C965.36,667.63 971.95,672.15 977.22,676.24 C982.49,680.32 986.88,683.92 990.4,688.1 C993.91,692.27 996.41,696.63 998.3,701.28 C1000.19,705.93 1000.19,710.03 1001.73,716 C1003.27,721.97 1005.99,729.18 1007.53,737.09 C1009.07,744.99 1010.12,753.78 1010.95,763.44 C1011.79,773.11 1012.12,781.98 1012.54,795.07 C1012.95,808.16 1013.3,834.17 1013.46,841.99 L1013.46,841.99 L1014.38,795.07 L1015.7,763.44 L1018.07,737.09 L1021.5,716 L1022.02,710.5 L1023.34,697.32 L1027.3,684.14 L1032.57,674.92 L1037.84,660.42 L1047.06,638.02 L1052.34,630.11 L1056.29,618.25 L1062.88,602.44 L1068.15,586.62 L1074.74,573.44 L1082.65,562.9 L1093.19,553.68 L1103.73,547.09 L1114.28,539.18 L1119.55,536.02" fill="none" stroke="#ff0000" stroke-width="2.6" stroke-linejoin="round"/>
<path d="M750.54,567.64 C755.38,569.4 770.31,574.72 779.54,578.19 C788.76,581.66 797.11,585 805.89,588.47 C814.68,591.94 823.47,595.36 832.25,599.01 C841.04,602.66 849.82,606.61 858.61,610.34 C867.39,614.08 876.18,617.59 884.97,621.41 C893.75,625.24 902.54,629.28 911.32,633.27 C920.11,637.27 929.77,641.53 937.68,645.4 C945.59,649.26 952.18,652.65 958.77,656.47 C965.36,660.29 971.95,664.68 977.22,668.33 C982.49,671.98 986,673.95 990.4,678.35 C994.79,682.74 1000.06,689.33 1003.57,694.69 C1007.09,700.05 1009.81,706.95 1011.48,710.5 C1013.15,714.05 1012.36,711.57 1013.59,716 C1014.82,720.43 1017.37,729.18 1018.86,737.09 C1020.35,744.99 1021.63,753.78 1022.55,763.44 C1023.47,773.11 1023.91,783.3 1024.4,795.07 C1024.88,806.85 1025.27,827.58 1025.45,834.08 L1025.45,834.08 L1026.77,795.07 L1028.61,763.44 L1032.57,737.09 L1037.84,716 L1041.79,706.55 L1047.06,696.01 L1052.34,688.1 L1060.24,682.83 L1065.51,677.56 L1070.79,660.42 L1080.01,647.24 L1085.28,634.07 L1093.19,619.57 L1103.73,606.39 L1111.64,599.8 L1119.55,593.21 L1130.09,582.67 L1140.63,573.44 L1151.18,564.22 L1161.72,556.31 L1174.9,545.77 L1188.08,536.02" fill="none" stroke="#0000ff" stroke-width="2.6" stroke-linejoin="round"/>
<path d="M750.54,563.43 C755.38,565.1 770.31,570.15 779.54,573.44 C788.76,576.74 797.11,579.81 805.89,583.2 C814.68,586.58 823.47,590.18 832.25,593.74 C841.04,597.3 849.82,600.9 858.61,604.55 C867.39,608.19 876.18,611.79 884.97,615.62 C893.75,619.44 902.54,623.43 911.32,627.48 C920.11,631.52 929.77,635.91 937.68,639.86 C945.59,643.82 952.18,647.33 958.77,651.2 C965.36,655.06 971.51,659.1 977.22,663.06 C982.93,667.01 988.2,670.75 993.03,674.92 C997.86,679.09 1002.26,683.49 1006.21,688.1 C1010.16,692.71 1014.2,697.94 1016.75,702.59 C1019.3,707.24 1019.74,710.25 1021.5,716 C1023.25,721.75 1025.67,729.18 1027.3,737.09 C1028.92,744.99 1030.24,753.78 1031.25,763.44 C1032.26,773.11 1032.72,775.04 1033.36,795.07 C1033.99,815.1 1034.79,868.87 1035.07,883.63 L1035.07,883.63 L1036.52,795.07 L1037.84,763.44 L1041.79,737.09 L1048.91,716 L1054.97,705.23 L1058.92,694.69 L1062.88,673.6 L1068.15,660.42 L1076.06,649.88 L1082.65,639.34 L1093.19,627.48 L1103.73,615.62 L1111.64,602.44 L1124.82,587.94 L1135.36,578.71 L1145.9,568.17 L1159.08,552.36 L1169.63,544.45 L1182.8,536.02" fill="none" stroke="#008080" stroke-width="2.6" stroke-linejoin="round"/>
</g>
<rect x="750.5" y="536" width="483.5" height="354.5" fill="none" stroke="#000" stroke-width="2.6"/>
<line x1="743.5" y1="536" x2="750.5" y2="536" stroke="#000000" stroke-width="2.2" stroke-linecap="butt"/>
<text transform="translate(690.3 550.7) scale(0.998 1.0)" font-size="28" stroke="#000">10<tspan font-size="19" dx="-0.8" dy="-8">-2</tspan></text>
<line x1="746.9" y1="585.56" x2="750.5" y2="585.56" stroke="#000000" stroke-width="1.8" stroke-linecap="butt"/>
<line x1="746.9" y1="573.07" x2="750.5" y2="573.07" stroke="#000000" stroke-width="1.8" stroke-linecap="butt"/>
<line x1="746.9" y1="564.21" x2="750.5" y2="564.21" stroke="#000000" stroke-width="1.8" stroke-linecap="butt"/>
<line x1="746.9" y1="557.34" x2="750.5" y2="557.34" stroke="#000000" stroke-width="1.8" stroke-linecap="butt"/>
<line x1="746.9" y1="551.73" x2="750.5" y2="551.73" stroke="#000000" stroke-width="1.8" stroke-linecap="butt"/>
<line x1="746.9" y1="546.98" x2="750.5" y2="546.98" stroke="#000000" stroke-width="1.8" stroke-linecap="butt"/>
<line x1="746.9" y1="542.87" x2="750.5" y2="542.87" stroke="#000000" stroke-width="1.8" stroke-linecap="butt"/>
<line x1="746.9" y1="539.24" x2="750.5" y2="539.24" stroke="#000000" stroke-width="1.8" stroke-linecap="butt"/>
<line x1="743.5" y1="606.9" x2="750.5" y2="606.9" stroke="#000000" stroke-width="2.2" stroke-linecap="butt"/>
<text transform="translate(690.3 621.6) scale(0.998 1.0)" font-size="28" stroke="#000">10<tspan font-size="19" dx="-0.8" dy="-8">-3</tspan></text>
<line x1="746.9" y1="656.46" x2="750.5" y2="656.46" stroke="#000000" stroke-width="1.8" stroke-linecap="butt"/>
<line x1="746.9" y1="643.97" x2="750.5" y2="643.97" stroke="#000000" stroke-width="1.8" stroke-linecap="butt"/>
<line x1="746.9" y1="635.11" x2="750.5" y2="635.11" stroke="#000000" stroke-width="1.8" stroke-linecap="butt"/>
<line x1="746.9" y1="628.24" x2="750.5" y2="628.24" stroke="#000000" stroke-width="1.8" stroke-linecap="butt"/>
<line x1="746.9" y1="622.63" x2="750.5" y2="622.63" stroke="#000000" stroke-width="1.8" stroke-linecap="butt"/>
<line x1="746.9" y1="617.88" x2="750.5" y2="617.88" stroke="#000000" stroke-width="1.8" stroke-linecap="butt"/>
<line x1="746.9" y1="613.77" x2="750.5" y2="613.77" stroke="#000000" stroke-width="1.8" stroke-linecap="butt"/>
<line x1="746.9" y1="610.14" x2="750.5" y2="610.14" stroke="#000000" stroke-width="1.8" stroke-linecap="butt"/>
<line x1="743.5" y1="677.8" x2="750.5" y2="677.8" stroke="#000000" stroke-width="2.2" stroke-linecap="butt"/>
<text transform="translate(690.3 692.5) scale(0.998 1.0)" font-size="28" stroke="#000">10<tspan font-size="19" dx="-0.8" dy="-8">-4</tspan></text>
<line x1="746.9" y1="727.36" x2="750.5" y2="727.36" stroke="#000000" stroke-width="1.8" stroke-linecap="butt"/>
<line x1="746.9" y1="714.87" x2="750.5" y2="714.87" stroke="#000000" stroke-width="1.8" stroke-linecap="butt"/>
<line x1="746.9" y1="706.01" x2="750.5" y2="706.01" stroke="#000000" stroke-width="1.8" stroke-linecap="butt"/>
<line x1="746.9" y1="699.14" x2="750.5" y2="699.14" stroke="#000000" stroke-width="1.8" stroke-linecap="butt"/>
<line x1="746.9" y1="693.53" x2="750.5" y2="693.53" stroke="#000000" stroke-width="1.8" stroke-linecap="butt"/>
<line x1="746.9" y1="688.78" x2="750.5" y2="688.78" stroke="#000000" stroke-width="1.8" stroke-linecap="butt"/>
<line x1="746.9" y1="684.67" x2="750.5" y2="684.67" stroke="#000000" stroke-width="1.8" stroke-linecap="butt"/>
<line x1="746.9" y1="681.04" x2="750.5" y2="681.04" stroke="#000000" stroke-width="1.8" stroke-linecap="butt"/>
<line x1="743.5" y1="748.7" x2="750.5" y2="748.7" stroke="#000000" stroke-width="2.2" stroke-linecap="butt"/>
<text transform="translate(690.3 763.4) scale(0.998 1.0)" font-size="28" stroke="#000">10<tspan font-size="19" dx="-0.8" dy="-8">-5</tspan></text>
<line x1="746.9" y1="798.26" x2="750.5" y2="798.26" stroke="#000000" stroke-width="1.8" stroke-linecap="butt"/>
<line x1="746.9" y1="785.77" x2="750.5" y2="785.77" stroke="#000000" stroke-width="1.8" stroke-linecap="butt"/>
<line x1="746.9" y1="776.91" x2="750.5" y2="776.91" stroke="#000000" stroke-width="1.8" stroke-linecap="butt"/>
<line x1="746.9" y1="770.04" x2="750.5" y2="770.04" stroke="#000000" stroke-width="1.8" stroke-linecap="butt"/>
<line x1="746.9" y1="764.43" x2="750.5" y2="764.43" stroke="#000000" stroke-width="1.8" stroke-linecap="butt"/>
<line x1="746.9" y1="759.68" x2="750.5" y2="759.68" stroke="#000000" stroke-width="1.8" stroke-linecap="butt"/>
<line x1="746.9" y1="755.57" x2="750.5" y2="755.57" stroke="#000000" stroke-width="1.8" stroke-linecap="butt"/>
<line x1="746.9" y1="751.94" x2="750.5" y2="751.94" stroke="#000000" stroke-width="1.8" stroke-linecap="butt"/>
<line x1="743.5" y1="819.6" x2="750.5" y2="819.6" stroke="#000000" stroke-width="2.2" stroke-linecap="butt"/>
<text transform="translate(690.3 834.3) scale(0.998 1.0)" font-size="28" stroke="#000">10<tspan font-size="19" dx="-0.8" dy="-8">-6</tspan></text>
<line x1="746.9" y1="869.16" x2="750.5" y2="869.16" stroke="#000000" stroke-width="1.8" stroke-linecap="butt"/>
<line x1="746.9" y1="856.67" x2="750.5" y2="856.67" stroke="#000000" stroke-width="1.8" stroke-linecap="butt"/>
<line x1="746.9" y1="847.81" x2="750.5" y2="847.81" stroke="#000000" stroke-width="1.8" stroke-linecap="butt"/>
<line x1="746.9" y1="840.94" x2="750.5" y2="840.94" stroke="#000000" stroke-width="1.8" stroke-linecap="butt"/>
<line x1="746.9" y1="835.33" x2="750.5" y2="835.33" stroke="#000000" stroke-width="1.8" stroke-linecap="butt"/>
<line x1="746.9" y1="830.58" x2="750.5" y2="830.58" stroke="#000000" stroke-width="1.8" stroke-linecap="butt"/>
<line x1="746.9" y1="826.47" x2="750.5" y2="826.47" stroke="#000000" stroke-width="1.8" stroke-linecap="butt"/>
<line x1="746.9" y1="822.84" x2="750.5" y2="822.84" stroke="#000000" stroke-width="1.8" stroke-linecap="butt"/>
<line x1="743.5" y1="890.5" x2="750.5" y2="890.5" stroke="#000000" stroke-width="2.2" stroke-linecap="butt"/>
<text transform="translate(690.3 905.2) scale(0.998 1.0)" font-size="28" stroke="#000">10<tspan font-size="19" dx="-0.8" dy="-8">-7</tspan></text>
<line x1="750.5" y1="890.5" x2="750.5" y2="898.5" stroke="#000000" stroke-width="2.2" stroke-linecap="butt"/>
<text transform="translate(745.3 927) scale(0.985 1.04)" font-size="28" text-anchor="middle" stroke="#000">-1.8</text>
<line x1="831.08" y1="890.5" x2="831.08" y2="895" stroke="#000000" stroke-width="2.2" stroke-linecap="butt"/>
<line x1="911.67" y1="890.5" x2="911.67" y2="898.5" stroke="#000000" stroke-width="2.2" stroke-linecap="butt"/>
<text transform="translate(906.47 927) scale(0.985 1.04)" font-size="28" text-anchor="middle" stroke="#000">-1.6</text>
<line x1="992.25" y1="890.5" x2="992.25" y2="895" stroke="#000000" stroke-width="2.2" stroke-linecap="butt"/>
<line x1="1072.83" y1="890.5" x2="1072.83" y2="898.5" stroke="#000000" stroke-width="2.2" stroke-linecap="butt"/>
<text transform="translate(1067.63 927) scale(0.985 1.04)" font-size="28" text-anchor="middle" stroke="#000">-1.4</text>
<line x1="1153.42" y1="890.5" x2="1153.42" y2="895" stroke="#000000" stroke-width="2.2" stroke-linecap="butt"/>
<line x1="1234" y1="890.5" x2="1234" y2="898.5" stroke="#000000" stroke-width="2.2" stroke-linecap="butt"/>
<text transform="translate(1228.8 927) scale(0.985 1.04)" font-size="28" text-anchor="middle" stroke="#000">-1.2</text>
<text transform="translate(989 966) scale(0.998 1.0)" font-size="28" text-anchor="middle" stroke="#000">E vs. Ag/AgCl (V)</text>
<text transform="translate(667 726.7) rotate(-90) scale(0.998 1.0)" font-size="28" text-anchor="middle" stroke="#000">Current density (A/cm<tspan font-size="18" dy="-9">2</tspan><tspan dy="9">)</tspan></text>
<line x1="759" y1="735.5" x2="783" y2="735.5" stroke="#000000" stroke-width="6.5" stroke-linecap="butt"/>
<text transform="translate(791.5 745.8) scale(0.998 1.0)" font-size="28" stroke="#000">Pure Mg</text>
<line x1="759" y1="779" x2="783" y2="779" stroke="#ff0000" stroke-width="6.5" stroke-linecap="butt"/>
<text transform="translate(791.5 789.8) scale(0.998 1.0)" font-size="28" stroke="#000">1 mM NADH</text>
<line x1="759" y1="822" x2="783" y2="822" stroke="#0000ff" stroke-width="6.5" stroke-linecap="butt"/>
<text transform="translate(791.5 832.3) scale(0.998 1.0)" font-size="28" stroke="#000">2.5 mM NADH</text>
<line x1="759" y1="865.7" x2="783" y2="865.7" stroke="#008080" stroke-width="6.5" stroke-linecap="butt"/>
<text transform="translate(791.5 876.3) scale(0.998 1.0)" font-size="28" stroke="#000">5 mM NADH</text>
</g>
<g id="panel-f">
<line x1="1428.7" y1="776.5" x2="1428.7" y2="871.5" stroke="#000000" stroke-width="1.5" stroke-linecap="butt"/>
<line x1="1421.5" y1="776.5" x2="1435.9" y2="776.5" stroke="#000000" stroke-width="1.5" stroke-linecap="butt"/>
<line x1="1421.5" y1="871.5" x2="1435.9" y2="871.5" stroke="#000000" stroke-width="1.5" stroke-linecap="butt"/>
<line x1="1539.3" y1="665" x2="1539.3" y2="740" stroke="#000000" stroke-width="1.5" stroke-linecap="butt"/>
<line x1="1532.1" y1="665" x2="1546.5" y2="665" stroke="#000000" stroke-width="1.5" stroke-linecap="butt"/>
<line x1="1532.1" y1="740" x2="1546.5" y2="740" stroke="#000000" stroke-width="1.5" stroke-linecap="butt"/>
<line x1="1760.5" y1="587.7" x2="1760.5" y2="640" stroke="#000000" stroke-width="1.5" stroke-linecap="butt"/>
<line x1="1753.3" y1="587.7" x2="1767.7" y2="587.7" stroke="#000000" stroke-width="1.5" stroke-linecap="butt"/>
<line x1="1753.3" y1="640" x2="1767.7" y2="640" stroke="#000000" stroke-width="1.5" stroke-linecap="butt"/>
<line x1="1435.43" y1="817.11" x2="1532.57" y2="710.39" stroke="#000000" stroke-width="2.4" stroke-linecap="butt"/>
<line x1="1547.32" y1="697.02" x2="1641.98" y2="626.48" stroke="#000000" stroke-width="2.4" stroke-linecap="butt"/>
<line x1="1659.98" y1="619.89" x2="1750.52" y2="614.31" stroke="#000000" stroke-width="2.4" stroke-linecap="butt"/>
<rect x="1422.45" y="818.25" width="12.5" height="12.5" fill="#000000"/>
<rect x="1533.05" y="696.75" width="12.5" height="12.5" fill="#000000"/>
<rect x="1643.75" y="614.25" width="12.5" height="12.5" fill="#000000"/>
<rect x="1754.25" y="607.45" width="12.5" height="12.5" fill="#000000"/>
<line x1="1428.7" y1="591" x2="1428.7" y2="658.5" stroke="#0000ff" stroke-width="1.5" stroke-linecap="butt"/>
<line x1="1421.5" y1="591" x2="1435.9" y2="591" stroke="#0000ff" stroke-width="1.5" stroke-linecap="butt"/>
<line x1="1421.5" y1="658.5" x2="1435.9" y2="658.5" stroke="#0000ff" stroke-width="1.5" stroke-linecap="butt"/>
<line x1="1539.3" y1="605.5" x2="1539.3" y2="723.5" stroke="#0000ff" stroke-width="1.5" stroke-linecap="butt"/>
<line x1="1532.1" y1="605.5" x2="1546.5" y2="605.5" stroke="#0000ff" stroke-width="1.5" stroke-linecap="butt"/>
<line x1="1532.1" y1="723.5" x2="1546.5" y2="723.5" stroke="#0000ff" stroke-width="1.5" stroke-linecap="butt"/>
<line x1="1650" y1="711" x2="1650" y2="774.75" stroke="#0000ff" stroke-width="1.5" stroke-linecap="butt"/>
<line x1="1642.8" y1="711" x2="1657.2" y2="711" stroke="#0000ff" stroke-width="1.5" stroke-linecap="butt"/>
<line x1="1642.8" y1="774.75" x2="1657.2" y2="774.75" stroke="#0000ff" stroke-width="1.5" stroke-linecap="butt"/>
<line x1="1760.5" y1="736" x2="1760.5" y2="758.5" stroke="#0000ff" stroke-width="1.5" stroke-linecap="butt"/>
<line x1="1753.3" y1="736" x2="1767.7" y2="736" stroke="#0000ff" stroke-width="1.5" stroke-linecap="butt"/>
<line x1="1753.3" y1="758.5" x2="1767.7" y2="758.5" stroke="#0000ff" stroke-width="1.5" stroke-linecap="butt"/>
<line x1="1438.11" y1="628.29" x2="1529.89" y2="661.31" stroke="#0000ff" stroke-width="2.4" stroke-linecap="butt"/>
<line x1="1547.47" y1="670.46" x2="1641.83" y2="736.99" stroke="#0000ff" stroke-width="2.4" stroke-linecap="butt"/>
<line x1="1659.99" y1="743.13" x2="1750.51" y2="746.62" stroke="#0000ff" stroke-width="2.4" stroke-linecap="butt"/>
<rect x="1422.45" y="618.65" width="12.5" height="12.5" fill="#0000ff"/>
<rect x="1533.05" y="658.45" width="12.5" height="12.5" fill="#0000ff"/>
<rect x="1643.75" y="736.5" width="12.5" height="12.5" fill="#0000ff"/>
<rect x="1754.25" y="740.75" width="12.5" height="12.5" fill="#0000ff"/>
<line x1="1373.2" y1="532.5" x2="1373.2" y2="891.05" stroke="#000000" stroke-width="2.6" stroke-linecap="butt"/>
<line x1="1372.2" y1="533.8" x2="1817.75" y2="533.8" stroke="#000000" stroke-width="2.6" stroke-linecap="butt"/>
<line x1="1372.2" y1="889.75" x2="1816.75" y2="889.75" stroke="#000000" stroke-width="2.6" stroke-linecap="butt"/>
<line x1="1816.75" y1="532.5" x2="1816.75" y2="891.05" stroke="#0000ff" stroke-width="2.6" stroke-linecap="butt"/>
<line x1="1365.7" y1="533.8" x2="1373.2" y2="533.8" stroke="#000000" stroke-width="2.2" stroke-linecap="butt"/>
<text transform="translate(1359.7 546.4) scale(0.985 1.04)" font-size="28" text-anchor="end" stroke="#000">-1.44</text>
<line x1="1365.7" y1="622.79" x2="1373.2" y2="622.79" stroke="#000000" stroke-width="2.2" stroke-linecap="butt"/>
<text transform="translate(1359.7 633.19) scale(0.985 1.04)" font-size="28" text-anchor="end" stroke="#000">-1.46</text>
<line x1="1365.7" y1="711.77" x2="1373.2" y2="711.77" stroke="#000000" stroke-width="2.2" stroke-linecap="butt"/>
<text transform="translate(1359.7 722.17) scale(0.985 1.04)" font-size="28" text-anchor="end" stroke="#000">-1.48</text>
<line x1="1365.7" y1="800.76" x2="1373.2" y2="800.76" stroke="#000000" stroke-width="2.2" stroke-linecap="butt"/>
<text transform="translate(1359.7 811.16) scale(0.985 1.04)" font-size="28" text-anchor="end" stroke="#000">-1.50</text>
<line x1="1365.7" y1="889.75" x2="1373.2" y2="889.75" stroke="#000000" stroke-width="2.2" stroke-linecap="butt"/>
<text transform="translate(1359.7 900.15) scale(0.985 1.04)" font-size="28" text-anchor="end" stroke="#000">-1.52</text>
<line x1="1816.75" y1="533.8" x2="1824.25" y2="533.8" stroke="#0000ff" stroke-width="2.2" stroke-linecap="butt"/>
<text transform="translate(1831.75 543) scale(0.985 1.04)" font-size="28" fill="#0000ff" stroke="#0000ff">50</text>
<line x1="1816.75" y1="604.99" x2="1824.25" y2="604.99" stroke="#0000ff" stroke-width="2.2" stroke-linecap="butt"/>
<text transform="translate(1831.75 614.19) scale(0.985 1.04)" font-size="28" fill="#0000ff" stroke="#0000ff">40</text>
<line x1="1816.75" y1="676.18" x2="1824.25" y2="676.18" stroke="#0000ff" stroke-width="2.2" stroke-linecap="butt"/>
<text transform="translate(1831.75 685.38) scale(0.985 1.04)" font-size="28" fill="#0000ff" stroke="#0000ff">30</text>
<line x1="1816.75" y1="747.37" x2="1824.25" y2="747.37" stroke="#0000ff" stroke-width="2.2" stroke-linecap="butt"/>
<text transform="translate(1831.75 756.57) scale(0.985 1.04)" font-size="28" fill="#0000ff" stroke="#0000ff">20</text>
<line x1="1816.75" y1="818.56" x2="1824.25" y2="818.56" stroke="#0000ff" stroke-width="2.2" stroke-linecap="butt"/>
<text transform="translate(1831.75 827.76) scale(0.985 1.04)" font-size="28" fill="#0000ff" stroke="#0000ff">10</text>
<line x1="1816.75" y1="889.75" x2="1824.25" y2="889.75" stroke="#0000ff" stroke-width="2.2" stroke-linecap="butt"/>
<text transform="translate(1831.75 898.95) scale(0.985 1.04)" font-size="28" fill="#0000ff" stroke="#0000ff">0</text>
<line x1="1428.7" y1="889.75" x2="1428.7" y2="897.25" stroke="#000000" stroke-width="2.2" stroke-linecap="butt"/>
<text transform="translate(1438.2 921.6) rotate(-17.7) scale(0.995 1.035)" font-size="28" text-anchor="end" stroke="#000">Pure Mg</text>
<line x1="1539.3" y1="889.75" x2="1539.3" y2="897.25" stroke="#000000" stroke-width="2.2" stroke-linecap="butt"/>
<text transform="translate(1583.5 915.4) rotate(-17.7) scale(0.995 1.035)" font-size="28" text-anchor="end" stroke="#000">1 mM NADH</text>
<line x1="1650" y1="889.75" x2="1650" y2="897.25" stroke="#000000" stroke-width="2.2" stroke-linecap="butt"/>
<text transform="translate(1715 913.6) rotate(-17.7) scale(0.995 1.035)" font-size="28" text-anchor="end" stroke="#000">2.5 mM NADH</text>
<line x1="1760.5" y1="889.75" x2="1760.5" y2="897.25" stroke="#000000" stroke-width="2.2" stroke-linecap="butt"/>
<text transform="translate(1823.5 915.5) rotate(-17.7) scale(0.995 1.035)" font-size="28" text-anchor="end" stroke="#000">5 mM NADH</text>
<text transform="translate(1284 710.5) rotate(-90) scale(0.998 1.0)" font-size="28" text-anchor="middle" stroke="#000">E<tspan font-size="18.8" font-style="italic" dy="6">corr</tspan><tspan dy="-6"> (V)</tspan></text>
<text transform="translate(1874.6 706.9) rotate(90) scale(0.998 1.0)" font-size="28" text-anchor="middle" fill="#0000ff" stroke="#0000ff">I<tspan font-size="18.8" font-style="italic" dy="7">corr</tspan><tspan dy="-7"> (µA/cm</tspan><tspan font-size="18" dy="-8">2</tspan><tspan dy="8">)</tspan></text>
</g>
</svg></body></html>
